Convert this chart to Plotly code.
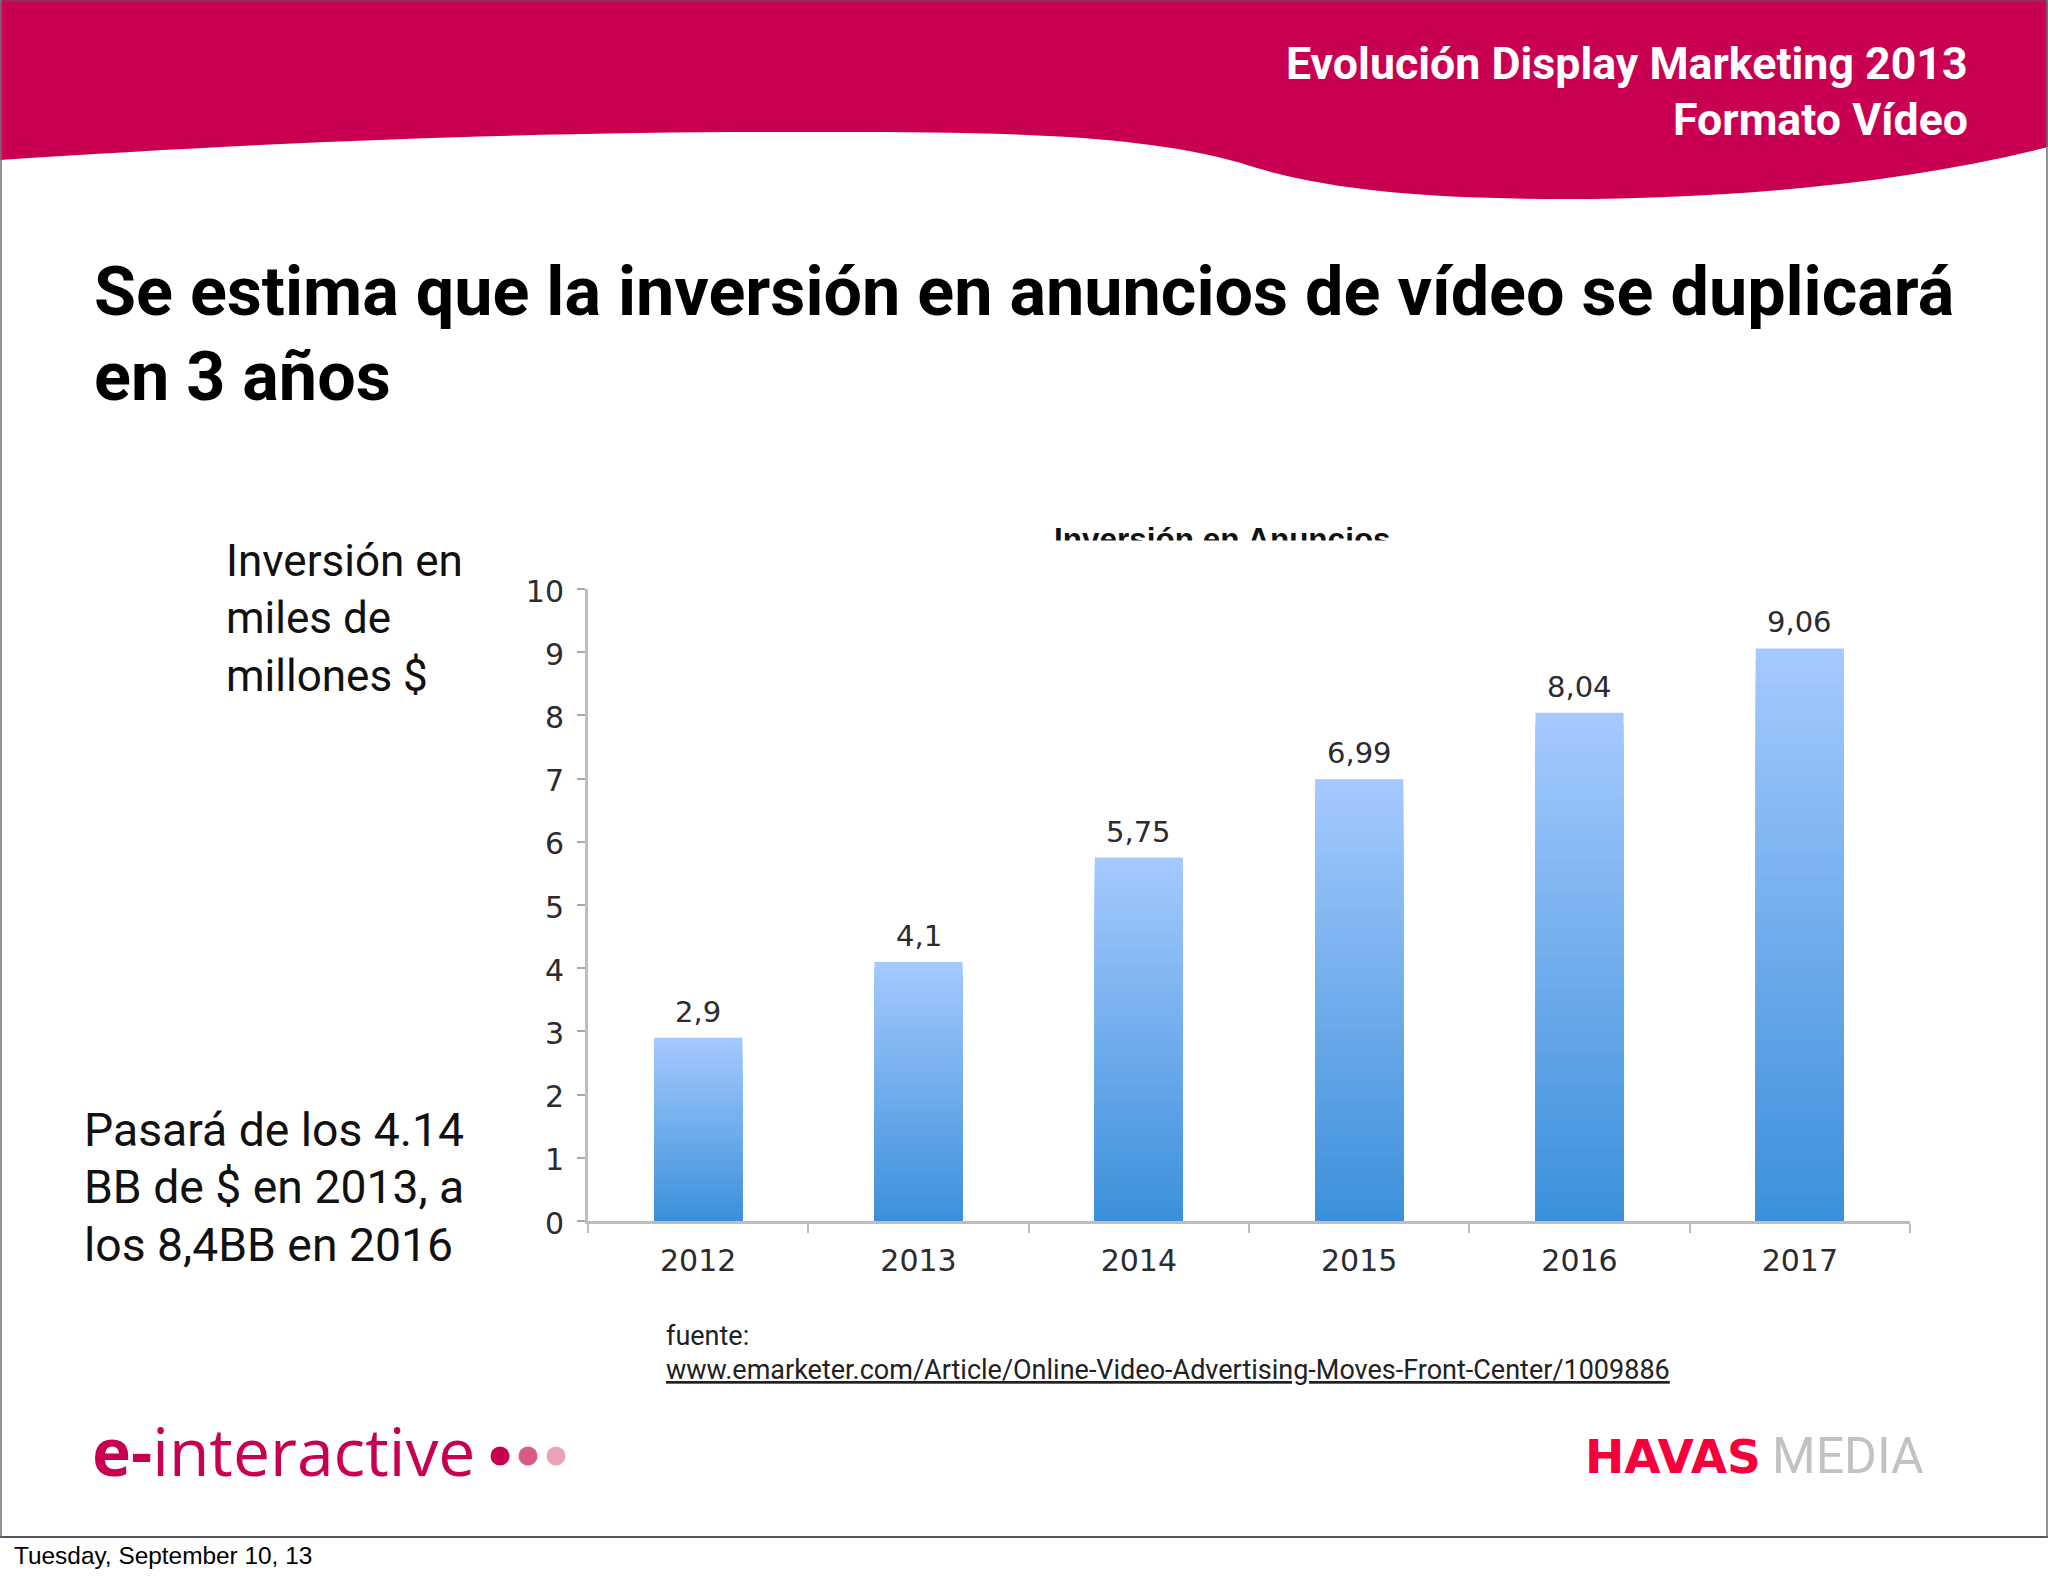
import plotly.graph_objects as go

W, H = 2048, 1576

years = ['2012', '2013', '2014', '2015', '2016', '2017']
inversion = [2.9, 4.1, 5.75, 6.99, 8.04, 9.06]
etiquetas = ['2,9', '4,1', '5,75', '6,99', '8,04', '9,06']
ticks_y = [0, 1, 2, 3, 4, 5, 6, 7, 8, 9, 10]

CRIMSON = '#c90052'
BAR_TOP = (164, 201, 254)
BAR_BOTTOM = (58, 143, 217)
N_STEPS = 48   # plotly has no gradient on bars, so nested bars fake it


def px(x):
    return x / W


def py(y):
    return 1 - y / H


fig = go.Figure()

# tallest first, each shorter one painted on top
for k in range(N_STEPS, 0, -1):
    frac = k / N_STEPS
    col = [round(b + (t - b) * frac) for t, b in zip(BAR_TOP, BAR_BOTTOM)]
    fig.add_trace(go.Bar(
        x=years,
        y=[v * frac for v in inversion],
        marker=dict(color='rgb(%d,%d,%d)' % tuple(col), line_width=0),
        hoverinfo='skip' if k < N_STEPS else None,
        showlegend=False,
    ))

fig.update_layout(
    width=W, height=H,
    margin=dict(l=0, r=0, t=0, b=0),
    paper_bgcolor='white',
    plot_bgcolor='white',
    barmode='overlay',
    bargap=0.6,
    showlegend=False,
)
fig.update_xaxes(
    domain=[px(588), px(1910)],
    type='category',
    range=[-0.5, 5.5],
    automargin=False,
    tickangle=0,
    tickson='boundaries',
    ticks='outside', ticklen=9, tickwidth=2, tickcolor='#bdbdc4',
    showline=True, linecolor='#bdbdc4', linewidth=3,
    showgrid=False,
    ticklabelstandoff=11,
    tickfont=dict(family='DejaVu Sans', size=30, color='#2b2b30'),
)
fig.update_yaxes(
    domain=[py(1221), py(589)],
    range=[0, 10],
    automargin=False,
    tickvals=ticks_y,
    ticks='outside', ticklen=8, tickwidth=2, tickcolor='#a8a8b0',
    showline=True, linecolor='#bdbdc4', linewidth=3,
    showgrid=False, zeroline=False,
    ticklabelstandoff=7,
    ticklabelshift=2,
    tickfont=dict(family='DejaVu Sans', size=30, color='#2b2b30'),
)

# valores encima de cada barra
for i, (v, lab) in enumerate(zip(inversion, etiquetas)):
    fig.add_annotation(x=i, y=v, text=lab, showarrow=False, yanchor='bottom', yshift=7,
                       font=dict(family='DejaVu Sans', size=29, color='#2b2b30'))


def texto(text, x, base, size, color='black', family='Open Sans', anchor='left'):
    # base = text baseline in page pixels
    fig.add_annotation(xref='paper', yref='paper', x=px(x), y=py(base + size * 0.30),
                       xanchor=anchor, yanchor='bottom', text=text, showarrow=False,
                       borderpad=0, borderwidth=0,
                       font=dict(family=family, size=size, color=color))


# cabecera
texto('<b>Evolución Display Marketing 2013</b>', 1968, 77, 44.7, 'white', 'Roboto', 'right')
texto('<b>Formato Vídeo</b>', 1968, 133, 44.7, 'white', 'Roboto', 'right')

# titular
texto('<b>Se estima que la inversión en anuncios de vídeo se duplicará</b>', 94, 312, 68.3, 'black', 'Roboto')
texto('<b>en 3 años</b>', 94, 397, 68.3, 'black', 'Roboto')

# chart title, cut in half like the pasted image in the slide
texto('<b>Inversión en Anuncios</b>', 1222, 548, 31.5, '#111111', 'Liberation Sans', 'center')
fig.add_annotation(xref='paper', yref='paper', x=px(1222), y=py(540), xanchor='center', yanchor='top',
                   text=' ', showarrow=False, bgcolor='white', width=420, height=30, borderpad=0)

# textos laterales
for line, base in zip(['Inversión en', 'miles de', 'millones $'], [574, 631, 689]):
    texto(line, 226, base, 44, '#111111', 'Roboto')
for line, base in zip(['Pasará de los 4.14', 'BB de $ en 2013, a', 'los 8,4BB en 2016'], [1143, 1200, 1258]):
    texto(line, 84, base, 46.3, '#111111', 'Roboto')

# fuente
texto('fuente:', 666, 1343.5, 27, '#222222', 'Roboto')
texto('<u>www.emarketer.com/Article/Online-Video-Advertising-Moves-Front-Center/1009886</u>',
      666, 1377.5, 27, '#222222', 'Roboto')

# logos
texto('<b>e-</b>interactive', 92, 1475, 66, CRIMSON, 'Open Sans')
texto('<b>HAVAS</b>', 1585, 1470, 47, '#f5003a', 'DejaVu Sans')
texto('MEDIA', 1772, 1470, 50, '#c2c2c2', 'Roboto')

# pie
texto('Tuesday, September 10, 13', 14, 1562, 24.4, 'black', 'Liberation Sans')

# onda de la cabecera
points = [
    ('M', (0, 0)), ('L', (2048, 0)), ('L', (2048, 147)),
    ('C', (1900, 185), (1720, 199), (1567, 199)),
    ('C', (1430, 199), (1320, 190), (1241, 163)),
    ('C', (1130, 130), (950, 132), (784, 132)),
    ('C', (550, 132), (300, 140), (0, 160)),
]
path = ''
for seg in points:
    path += seg[0] + ' '.join('%.5f,%.5f' % (px(a), py(b)) for a, b in seg[1:]) + ' '
path += 'Z'

shapes = [dict(type='path', xref='paper', yref='paper', path=path, fillcolor=CRIMSON, line_width=0, layer='below')]

# puntos del logo
for cx, col in [(500, CRIMSON), (528, '#d85a85'), (556, '#e8a3b5')]:
    shapes.append(dict(type='circle', xref='paper', yref='paper', x0=px(cx - 9.5), x1=px(cx + 9.5),
                       y0=py(1465.5), y1=py(1446.5), fillcolor=col, line_width=0))

# marco de la diapositiva
shapes += [
    dict(type='line', xref='paper', yref='paper', x0=0, x1=1, y0=py(1537), y1=py(1537),
         line=dict(color='#555560', width=2)),
    dict(type='line', xref='paper', yref='paper', x0=0, x1=1, y0=py(1), y1=py(1),
         line=dict(color='#7a3a62', width=1.5)),
    dict(type='line', xref='paper', yref='paper', x0=px(1), x1=px(1), y0=py(1537), y1=1,
         line=dict(color='#70707a', width=1.5)),
    dict(type='line', xref='paper', yref='paper', x0=px(2047), x1=px(2047), y0=py(1537), y1=1,
         line=dict(color='#70707a', width=1.5)),
]
fig.update_layout(shapes=shapes)

# the page default 8px body margin would push the slide off its frame
fig.write_html("out.html", config={'displayModeBar': False},
               post_script="document.body.style.margin='0';")
